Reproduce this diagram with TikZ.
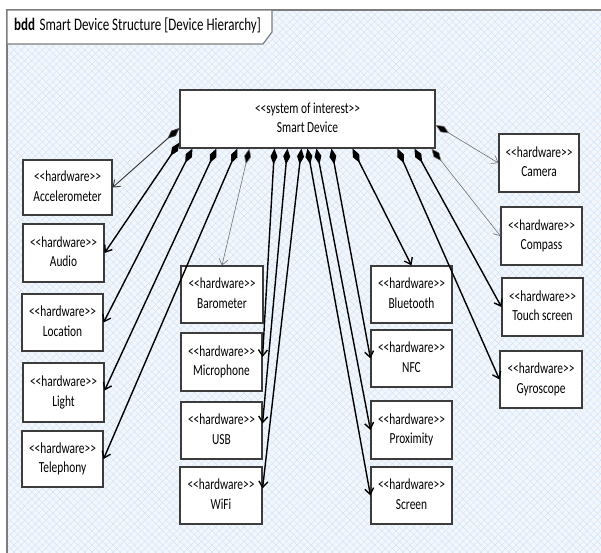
\documentclass[tikz,border=0pt]{standalone}
\usepackage{graphicx}
\usepackage{fontspec}
\setmainfont{Carlito}[Ligatures=TeXOff]
\usetikzlibrary{arrows.meta,patterns.meta}
\definecolor{bgblue}{RGB}{242,247,253}
\definecolor{patblue}{RGB}{205,221,242}
\definecolor{framegray}{RGB}{125,125,125}
\definecolor{boxgray}{RGB}{60,60,60}
\newcommand\twol[2]{\scalebox{1}[1.35]{\begin{tabular}{@{}c@{}}#1\\#2\end{tabular}}}
\begin{document}
\begin{tikzpicture}[x=1pt,y=-1pt,
  blk/.style={draw=boxgray,fill=white,line width=1.1pt,inner sep=0pt,align=center,
    font=\fontsize{11.4}{14.8}\selectfont},
  hw/.style={blk,minimum width=81pt,minimum height=57pt},
  comp/.style={{Diamond[length=16pt,width=7pt,fill=black]}-{Straight Barb[length=6pt,width=9pt]},
    line width=1.4pt,draw=black},
  compmid/.style={comp,line width=0.9pt,draw=black!80},
  compthin/.style={comp,line width=0.6pt,draw=black!55}]
\useasboundingbox (0,0) rectangle (601,552);
\clip (0,0) rectangle (601,552);
\fill[white] (0,0) rectangle (601,552);
% frame with background
\fill[bgblue] (7,10) rectangle (620,570);
\fill[pattern={Lines[angle=45,distance=5pt,line width=0.3pt]},pattern color=patblue] (7,10) rectangle (620,570);
\fill[pattern={Lines[angle=-45,distance=5pt,line width=0.3pt]},pattern color=patblue] (7,10) rectangle (620,570);
\draw[framegray,line width=1.5pt] (7,10) rectangle (620,570);
% title tab
\draw[fill=white,draw=framegray,line width=1.2pt] (7,10) -- (272,10) -- (272,32) -- (263,44) -- (7,44) -- cycle;
\node[anchor=west,inner sep=0pt,font=\fontsize{13}{15}\selectfont] (title) at (14,26)
  {\scalebox{1}[1.35]{\textbf{bdd}\hspace{4.5pt}Smart Device Structure [Device Hierarchy]}};
% main block
\node[blk,minimum width=255pt,minimum height=58pt] (sd) at (307.5,119) {\twol{<<system of interest>>}{Smart Device}};
% parts
\node[hw,minimum width=89pt,minimum height=55pt] (acc) at (67.5,187.5) {\twol{<<hardware>>}{Accelerometer}};
\node[hw,minimum height=58pt] (aud) at (63.5,253) {\twol{<<hardware>>}{Audio}};
\node[hw] (loc) at (62.5,322.5) {\twol{<<hardware>>}{Location}};
\node[hw,minimum height=59pt] (lig) at (63.5,392.5) {\twol{<<hardware>>}{Light}};
\node[hw,minimum height=56pt] (tel) at (62.5,459) {\twol{<<hardware>>}{Telephony}};
\node[hw,minimum width=82pt] (bar) at (222,294.5) {\twol{<<hardware>>}{Barometer}};
\node[hw,minimum height=58pt] (mic) at (221.5,362) {\twol{<<hardware>>}{Microphone}};
\node[hw] (usb) at (221.5,430.5) {\twol{<<hardware>>}{USB}};
\node[hw,minimum width=82pt] (wif) at (221,495.5) {\twol{<<hardware>>}{WiFi}};
\node[hw] (blu) at (411.5,294.5) {\twol{<<hardware>>}{Bluetooth}};
\node[hw] (nfc) at (411.5,358.5) {\twol{<<hardware>>}{NFC}};
\node[hw,minimum height=58pt] (pro) at (411.5,430) {\twol{<<hardware>>}{Proximity}};
\node[hw] (scr) at (411.5,495.5) {\twol{<<hardware>>}{Screen}};
\node[hw,minimum width=80pt,minimum height=58pt] (cam) at (539,163) {\twol{<<hardware>>}{Camera}};
\node[hw,minimum height=58pt] (com) at (541.5,236) {\twol{<<hardware>>}{Compass}};
\node[hw,minimum height=58pt] (tou) at (542.5,307) {\twol{<<hardware>>}{Touch screen}};
\node[hw,minimum width=82pt] (gyr) at (541,379.5) {\twol{<<hardware>>}{Gyroscope}};
% composition connectors
\draw[compmid] ([yshift=-9pt]sd.west) -- (acc.east);
\draw[comp] ([yshift=6pt]sd.south west) -- (aud.east);
\draw[comp] ([xshift=13pt]sd.south west) -- (loc.east);
\draw[comp] ([xshift=37pt]sd.south west) -- ([yshift=2pt]lig.east);
\draw[comp] ([xshift=58pt]sd.south west) -- (tel.east);
\draw[compthin] ([xshift=70pt]sd.south west) -- (bar.north);
\draw[comp] ([xshift=95pt]sd.south west) -- ([yshift=5pt]mic.east);
\draw[comp] ([xshift=108pt]sd.south west) -- ([yshift=7pt]usb.east);
\draw[comp] ([xshift=122pt]sd.south west) -- ([yshift=7pt]wif.east);
\draw[comp] ([xshift=128pt]sd.south west) -- (scr.west);
\draw[comp] ([xshift=137pt]sd.south west) -- (pro.west);
\draw[comp] ([xshift=152pt]sd.south west) -- (nfc.west);
\draw[comp] ([xshift=173pt]sd.south west) -- (blu.north);
\draw[comp] ([xshift=218pt]sd.south west) -- (gyr.west);
\draw[comp] ([xshift=235pt]sd.south west) -- (tou.west);
\draw[compthin] ([xshift=252pt]sd.south west) -- (com.west);
\draw[compthin] ([yshift=-6pt]sd.east) -- (cam.west);
\end{tikzpicture}
\end{document}
